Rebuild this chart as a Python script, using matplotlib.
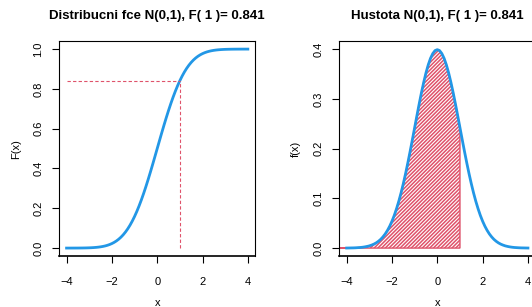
import numpy as np
import matplotlib.pyplot as plt
from matplotlib.patches import Polygon

plt.rcParams['font.family'] = ['Liberation Sans', 'DejaVu Sans']
plt.rcParams['hatch.linewidth'] = 1.1

# values (N(0,1), step 0.1)
x_vals = [-4.0, -3.9, -3.8, -3.7, -3.6, -3.5, -3.4, -3.3, -3.2, -3.1,
          -3.0, -2.9, -2.8, -2.7, -2.6, -2.5, -2.4, -2.3, -2.2, -2.1,
          -2.0, -1.9, -1.8, -1.7, -1.6, -1.5, -1.4, -1.3, -1.2, -1.1,
          -1.0, -0.9, -0.8, -0.7, -0.6, -0.5, -0.4, -0.3, -0.2, -0.1,
          0.0, 0.1, 0.2, 0.3, 0.4, 0.5, 0.6, 0.7, 0.8, 0.9,
          1.0, 1.1, 1.2, 1.3, 1.4, 1.5, 1.6, 1.7, 1.8, 1.9,
          2.0, 2.1, 2.2, 2.3, 2.4, 2.5, 2.6, 2.7, 2.8, 2.9,
          3.0, 3.1, 3.2, 3.3, 3.4, 3.5, 3.6, 3.7, 3.8, 3.9, 4.0]
cdf_vals = [0.00003, 0.00005, 0.00007, 0.00011, 0.00016, 0.00023, 0.00034, 0.00048, 0.00069, 0.00097,
            0.00135, 0.00187, 0.00256, 0.00347, 0.00466, 0.00621, 0.00820, 0.01072, 0.01390, 0.01786,
            0.02275, 0.02872, 0.03593, 0.04457, 0.05480, 0.06681, 0.08076, 0.09680, 0.11507, 0.13567,
            0.15866, 0.18406, 0.21186, 0.24196, 0.27425, 0.30854, 0.34458, 0.38209, 0.42074, 0.46017,
            0.50000, 0.53983, 0.57926, 0.61791, 0.65542, 0.69146, 0.72575, 0.75804, 0.78814, 0.81594,
            0.84134, 0.86433, 0.88493, 0.90320, 0.91924, 0.93319, 0.94520, 0.95543, 0.96407, 0.97128,
            0.97725, 0.98214, 0.98610, 0.98928, 0.99180, 0.99379, 0.99534, 0.99653, 0.99744, 0.99813,
            0.99865, 0.99903, 0.99931, 0.99952, 0.99966, 0.99977, 0.99984, 0.99989, 0.99993, 0.99995, 0.99997]
pdf_vals = [0.0001, 0.0002, 0.0003, 0.0004, 0.0006, 0.0009, 0.0012, 0.0017, 0.0024, 0.0033,
            0.0044, 0.0060, 0.0079, 0.0104, 0.0136, 0.0175, 0.0224, 0.0283, 0.0355, 0.0440,
            0.0540, 0.0656, 0.0790, 0.0940, 0.1109, 0.1295, 0.1497, 0.1714, 0.1942, 0.2179,
            0.2420, 0.2661, 0.2897, 0.3123, 0.3332, 0.3521, 0.3683, 0.3814, 0.3910, 0.3970,
            0.3989, 0.3970, 0.3910, 0.3814, 0.3683, 0.3521, 0.3332, 0.3123, 0.2897, 0.2661,
            0.2420, 0.2179, 0.1942, 0.1714, 0.1497, 0.1295, 0.1109, 0.0940, 0.0790, 0.0656,
            0.0540, 0.0440, 0.0355, 0.0283, 0.0224, 0.0175, 0.0136, 0.0104, 0.0079, 0.0060,
            0.0044, 0.0033, 0.0024, 0.0017, 0.0012, 0.0009, 0.0006, 0.0004, 0.0003, 0.0002, 0.0001]
q = 1.0
Fq = 0.841
x_ticks = [-4, -2, 0, 2, 4]
x_ticklabels = ['\u22124', '\u22122', '0', '2', '4']
cdf_ticks = [0.0, 0.2, 0.4, 0.6, 0.8, 1.0]
pdf_ticks = [0.0, 0.1, 0.2, 0.3, 0.4]

blue = '#2297E6'
red = '#DF536B'

fig = plt.figure(figsize=(5.32, 3.07), dpi=100)
ax1 = fig.add_axes([0.1115, 0.166, 0.368, 0.700])
ax2 = fig.add_axes([0.638, 0.166, 0.368, 0.700])

xlim = (-4.32, 4.32)


def style(ax, yticks, ylabel, title):
    ax.set_xlim(xlim)
    ax.set_xticks(x_ticks)
    ax.set_xticklabels(x_ticklabels)
    ax.set_yticks(yticks)
    ax.set_yticklabels(['%.1f' % t for t in yticks], rotation=90, va='center')
    ax.tick_params(direction='out', length=5, width=0.8, labelsize=8)
    ax.tick_params(axis='x', pad=10)
    ax.tick_params(axis='y', pad=6.5)
    for s in ax.spines.values():
        s.set_linewidth(0.8)
    ax.spines['bottom'].set_linewidth(1.2)
    ax.set_xlabel('x', fontsize=8, labelpad=8)
    ax.set_ylabel(ylabel, fontsize=8, labelpad=9)
    ax.set_title(title, fontsize=9.5, fontweight='bold', pad=16)


# distribution function
ax1.plot(x_vals, cdf_vals, color=blue, lw=2)
ax1.plot([x_vals[0], q], [Fq, Fq], color=red, lw=0.8, ls=(0, (3, 2)))
ax1.plot([q, q], [0, Fq], color=red, lw=0.8, ls=(0, (3, 2)))
ax1.set_ylim(-0.04, 1.04)
style(ax1, cdf_ticks, 'F(x)', 'Distribucni fce N(0,1), F( 1 )= %.3f' % Fq)

# density with hatched area up to q
ax2.plot(x_vals, pdf_vals, color=blue, lw=2)
fx = [xlim[0]] + [x for x in x_vals if x <= q] + [q]
fy = [0] + [y for x, y in zip(x_vals, pdf_vals) if x <= q] + [0]
poly = Polygon(np.column_stack([fx, fy]), closed=True, facecolor='none',
               edgecolor=red, hatch='/' * 9, lw=1)
ax2.add_patch(poly)
ax2.set_ylim(-0.016, 0.416)
style(ax2, pdf_ticks, 'f(x)', 'Hustota N(0,1), F( 1 )= %.3f' % Fq)

fig.savefig('out.png', dpi=100)
